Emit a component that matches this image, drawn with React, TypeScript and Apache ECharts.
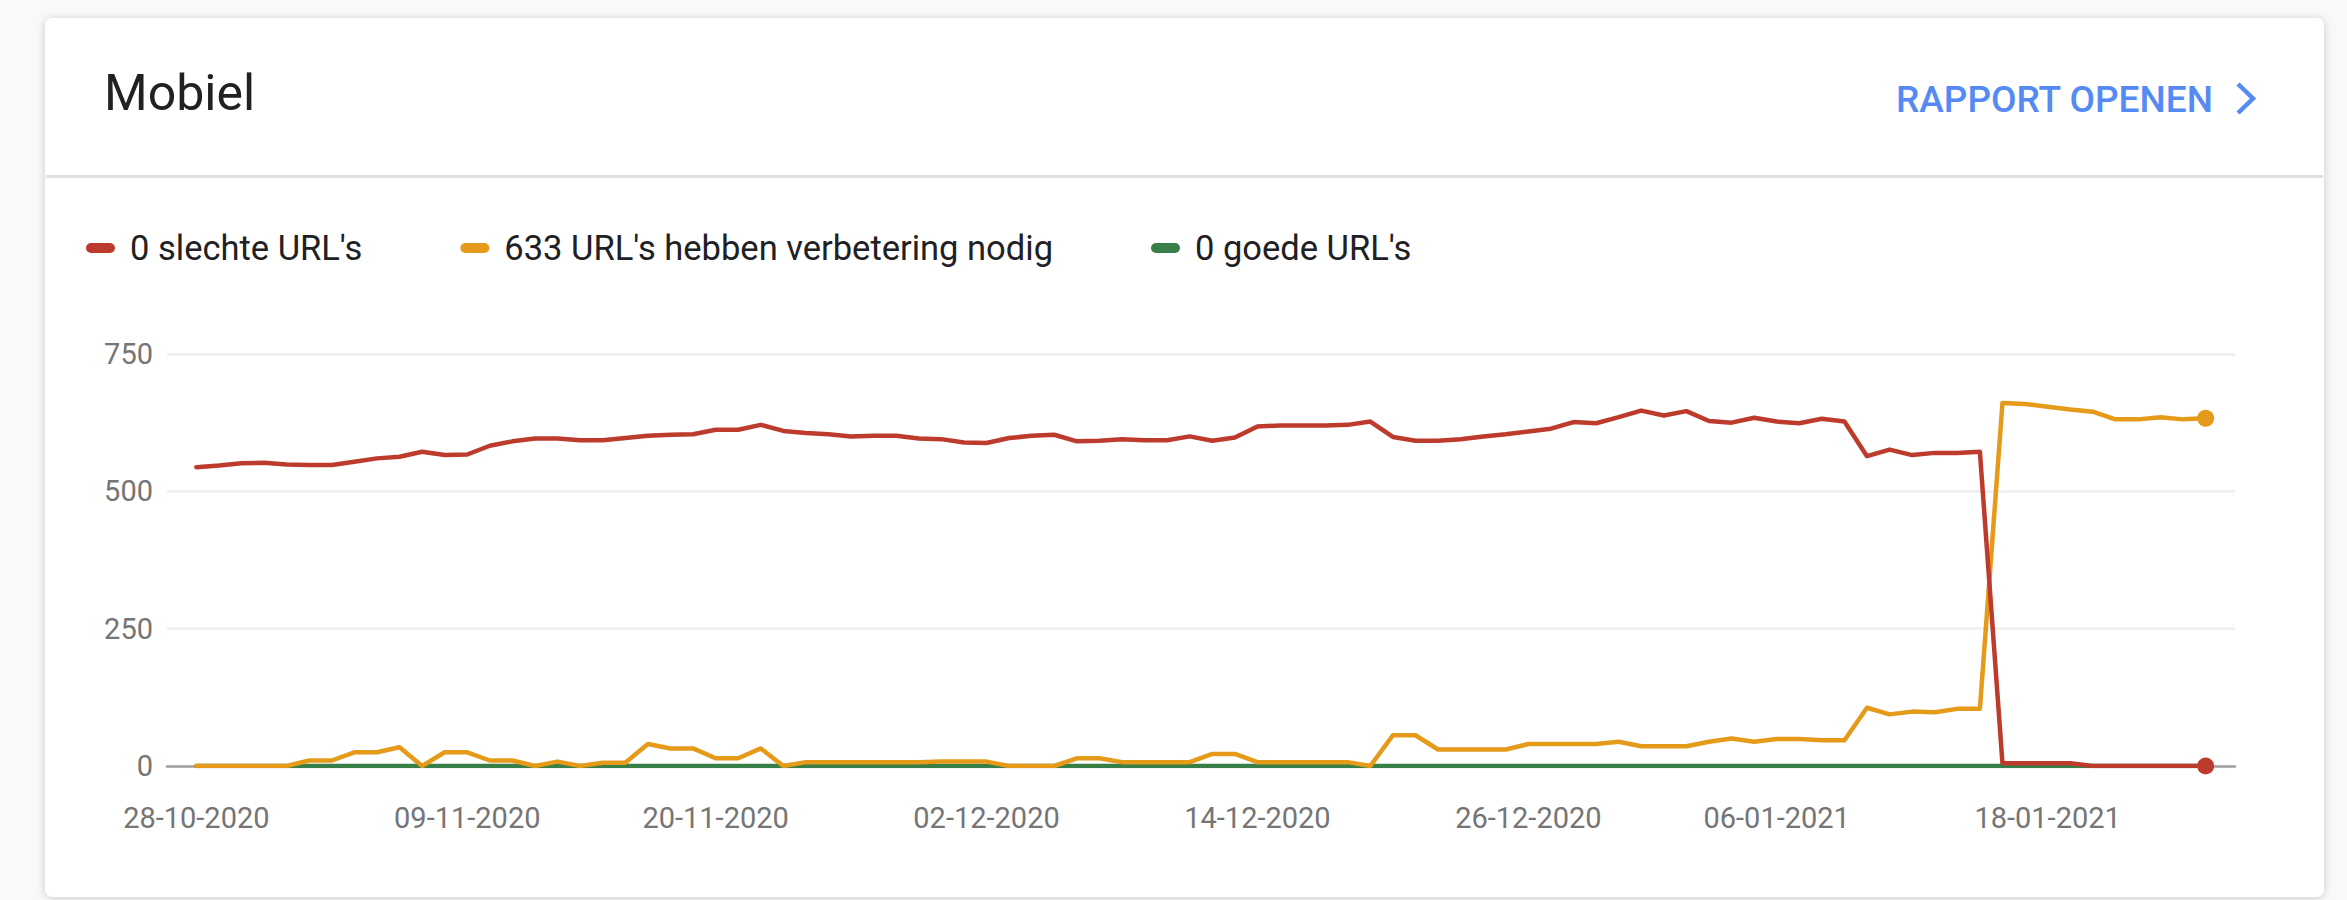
import React, { useEffect, useRef } from "react";
import * as echarts from "echarts";

const W = 2347;
const H = 900;

// X axis tick positions (day index from 28-10-2020) and their labels
const xTickDays = [0, 12, 23, 35, 47, 59, 70, 82];
const xTickLabels = [
  "28-10-2020",
  "09-11-2020",
  "20-11-2020",
  "02-12-2020",
  "14-12-2020",
  "26-12-2020",
  "06-01-2021",
  "18-01-2021",
];

const yMax = 750;
const yInterval = 250;

const legendNames = ["0 slechte URL's", "633 URL's hebben verbetering nodig", "0 goede URL's"];

// Daily values 28-10-2020 .. 25-01-2021 (90 days)
const slechte = [
  544, 547, 551, 552, 549, 548, 548, 554, 560, 563, 572, 566, 567, 583, 591, 596, 596, 593, 593, 597, 601, 603,
  604, 612, 612, 621, 610, 606, 604, 600, 601, 601, 596, 595, 589, 588, 597, 601, 603, 591, 592, 595, 593, 593, 600,
  592, 598, 618, 620, 620, 620, 621, 627, 599, 592, 592, 595, 600, 604, 609, 614, 626, 624, 635, 647, 638, 646, 628,
  625, 634, 627, 624, 632, 627, 564, 576, 566, 570, 570, 572, 5, 5, 5, 5, 0, 0, 0, 0, 0, 0,
];

const verbetering = [
  0, 0, 0, 0, 0, 10, 10, 25, 25, 34, 0, 25, 25, 10, 10, 0, 8, 0, 6, 6, 40, 32,
  32, 14, 14, 32, 0, 7, 7, 7, 7, 7, 7, 8, 8, 8, 0, 0, 0, 14, 14, 7, 7, 7, 7,
  22, 22, 7, 7, 7, 7, 7, 0, 56, 56, 30, 30, 30, 30, 40, 40, 40, 40, 44, 36, 36, 36, 44,
  50, 44, 49, 49, 47, 47, 106, 94, 99, 98, 104, 104, 661, 659, 654, 649, 645, 631, 631, 635, 631, 633,
];

const goede = [
  0, 0, 0, 0, 0, 0, 0, 0, 0, 0, 0, 0, 0, 0, 0, 0, 0, 0, 0, 0, 0, 0,
  0, 0, 0, 0, 0, 0, 0, 0, 0, 0, 0, 0, 0, 0, 0, 0, 0, 0, 0, 0, 0, 0, 0,
  0, 0, 0, 0, 0, 0, 0, 0, 0, 0, 0, 0, 0, 0, 0, 0, 0, 0, 0, 0, 0, 0, 0,
  0, 0, 0, 0, 0, 0, 0, 0, 0, 0, 0, 0, 0, 0, 0, 0, 0, 0, 0, 0, 0, 0,
];

const RED = "#bd3b2d";
const ORANGE = "#e59a1a";
const GREEN = "#377e47";
const BLUE = "#5589f4";
const FONT = "Roboto";

export default function App() {
  const ref = useRef<HTMLDivElement>(null);

  useEffect(() => {
    if (!ref.current) return;
    const chart = echarts.init(ref.current, null, { renderer: "svg", width: W, height: H });
    const last = slechte.length - 1;
    const toPairs = (arr: number[]) => arr.map((v, i) => [i, v]);

    const mkSeries = (name: string, data: number[], color: string, endDot: boolean, z: number) => ({
      type: "line",
      name,
      data: toPairs(data),
      color,
      z,
      silent: true,
      showSymbol: true,
      showAllSymbol: true,
      symbol: "circle",
      symbolSize: (_v: any, p: any) => (endDot && p.dataIndex === last ? 17 : 0),
      itemStyle: { color },
      lineStyle: { color, width: 4.5, cap: "round", join: "round" },
      emphasis: { disabled: true },
    });

    chart.setOption({
      animation: false,
      backgroundColor: "#f8f9fa",
      textStyle: { fontFamily: FONT },
      graphic: [
        {
          type: "rect",
          z: -10,
          silent: true,
          shape: { x: 45, y: 18, width: 2279, height: 879, r: 8 },
          style: {
            fill: "#ffffff",
            shadowBlur: 8,
            shadowOffsetY: 1,
            shadowColor: "rgba(0,0,0,0.2)",
          },
        },
        {
          type: "rect",
          z: -9,
          silent: true,
          shape: { x: 46, y: 175, width: 2277, height: 3 },
          style: { fill: "#e0e0e0" },
        },
        {
          type: "text",
          x: 104,
          y: 93,
          silent: true,
          style: {
            text: "Mobiel",
            fontSize: 50,
            fontFamily: FONT,
            fill: "#202124",
            verticalAlign: "middle",
            align: "left",
          },
        },
        {
          type: "text",
          x: 1896,
          y: 99,
          silent: true,
          style: {
            text: "RAPPORT OPENEN",
            fontSize: 37,
            fontWeight: 500,
            fontFamily: FONT,
            fill: BLUE,
            verticalAlign: "middle",
            align: "left",
          },
        },
        {
          type: "polyline",
          silent: true,
          shape: { points: [[2238, 84], [2253, 98.5], [2238, 113]] },
          style: { stroke: BLUE, lineWidth: 4.5, fill: null },
        },
      ],
      legend: {
        data: legendNames,
        left: 86,
        top: 228,
        padding: 0,
        itemGap: 98,
        itemWidth: 29,
        itemHeight: 10,
        icon: "path://M5,0H24A5,5,0,0,1,24,10H5A5,5,0,0,1,5,0Z",
        itemStyle: { borderWidth: 0 },
        selectedMode: false,
        textStyle: {
          fontSize: 34.5,
          fontFamily: FONT,
          color: "#202124",
          padding: [0, 0, 0, 10],
          lineHeight: 40,
        },
      },
      grid: { left: 167, right: 112, top: 354, bottom: 134, containLabel: false },
      xAxis: {
        type: "value",
        min: -1.3,
        max: 90.3,
        axisLine: { show: true, onZero: false, lineStyle: { color: "#9e9e9e", width: 2.5 } },
        axisTick: { show: false },
        splitLine: { show: false },
        axisLabel: {
          customValues: xTickDays,
          formatter: (v: number) => {
            const i = xTickDays.indexOf(Math.round(v));
            return i >= 0 && Math.abs(v - xTickDays[i]) < 1e-6 ? xTickLabels[i] : "";
          },
          fontSize: 29,
          fontFamily: FONT,
          color: "#757575",
          margin: 52,
          verticalAlign: "middle",
        },
      },
      yAxis: {
        type: "value",
        min: 0,
        max: yMax,
        interval: yInterval,
        axisLine: { show: false },
        axisTick: { show: false },
        axisLabel: { fontSize: 29, fontFamily: FONT, color: "#757575", margin: 14 },
        splitLine: { lineStyle: { color: "#eeeeee", width: 2.5 } },
      },
      series: [
        mkSeries(legendNames[2], goede, GREEN, false, 2),
        mkSeries(legendNames[1], verbetering, ORANGE, true, 3),
        mkSeries(legendNames[0], slechte, RED, true, 4),
      ],
    });

    return () => chart.dispose();
  }, []);

  return (
    <div style={{ position: "fixed", left: 0, top: 0, width: W, height: H, background: "#f8f9fa" }}>
      <div ref={ref} style={{ width: W, height: H }} />
    </div>
  );
}
